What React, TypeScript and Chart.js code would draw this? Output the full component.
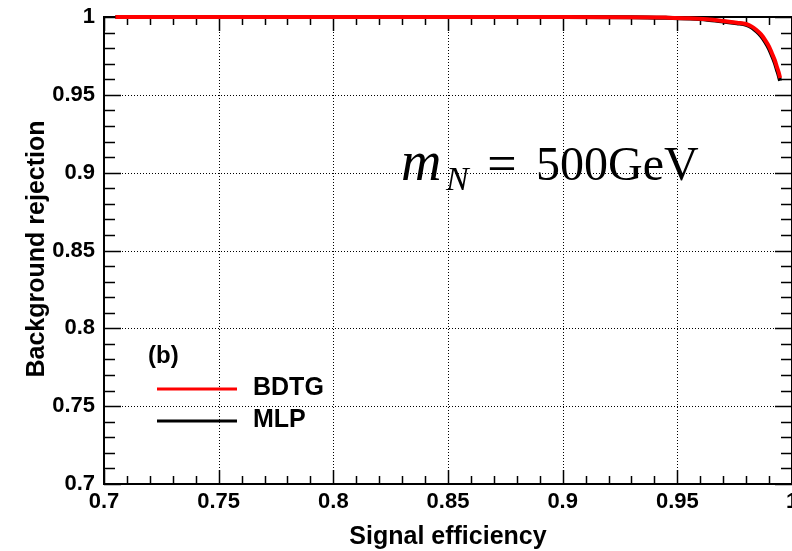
import React, { useEffect, useRef } from "react";
import { Chart, registerables } from "chart.js";

Chart.register(...registerables);

// Signal efficiency sample points of the ROC curves
const signalEfficiency = [
  0.705, 0.8, 0.9, 0.93, 0.945, 0.955, 0.963, 0.97, 0.976, 0.98, 0.9825,
  0.9845, 0.9865, 0.9883, 0.99, 0.9912, 0.9925, 0.9934, 0.9942, 0.9948,
];
// Background rejection for each classifier
const bdtgRejection = [
  1, 1, 1, 0.9999, 0.9996, 0.9992, 0.9985, 0.9974, 0.9963, 0.9955, 0.9938,
  0.9916, 0.9888, 0.9852, 0.981, 0.9769, 0.9722, 0.968, 0.9645, 0.9608,
];
const mlpRejection = [
  1, 1, 1, 0.9999, 0.9995, 0.999, 0.9983, 0.9971, 0.996, 0.995, 0.9932,
  0.9908, 0.9878, 0.984, 0.9796, 0.9754, 0.9705, 0.9662, 0.9625, 0.959,
];

const xMajorTicks = [0.7, 0.75, 0.8, 0.85, 0.9, 0.95, 1];
const yMajorTicks = [0.7, 0.75, 0.8, 0.85, 0.9, 0.95, 1];
const minorStep = 0.01;

const seriesNames = ["BDTG", "MLP"];
const seriesColors = ["#ff0000", "#000000"];
const panelTag = "(b)";
const xTitle = "Signal efficiency";
const yTitle = "Background rejection";

const SANS = "'Liberation Sans', Arial, Helvetica, sans-serif";
const SERIF = "'Liberation Serif', 'Times New Roman', serif";

const fmt = (v: number) => String(Number(v.toFixed(2)));

const framePlugin = {
  id: "rootFrame",
  beforeDatasetsDraw(chart: any) {
    const { ctx, chartArea } = chart;
    const xs = chart.scales.x;
    const ys = chart.scales.y;
    const { left, right, top, bottom } = chartArea;
    ctx.save();
    // dotted grid on interior major ticks
    ctx.strokeStyle = "#000";
    ctx.lineWidth = 1;
    ctx.setLineDash([1, 2]);
    xMajorTicks.slice(1, -1).forEach((v) => {
      const px = Math.round(xs.getPixelForValue(v)) + 0.5;
      ctx.beginPath();
      ctx.moveTo(px, top);
      ctx.lineTo(px, bottom);
      ctx.stroke();
    });
    yMajorTicks.slice(1, -1).forEach((v) => {
      const py = Math.round(ys.getPixelForValue(v)) + 0.5;
      ctx.beginPath();
      ctx.moveTo(left, py);
      ctx.lineTo(right, py);
      ctx.stroke();
    });
    ctx.setLineDash([]);

    // tick marks on all four sides
    ctx.lineWidth = 1.5;
    const nX = Math.round((xs.max - xs.min) / minorStep);
    for (let i = 0; i <= nX; i++) {
      const v = xs.min + i * minorStep;
      const major = i % 5 === 0;
      const len = major ? 14 : 8;
      const px = Math.round(xs.getPixelForValue(v)) + 0.5;
      ctx.beginPath();
      ctx.moveTo(px, bottom);
      ctx.lineTo(px, bottom - len);
      ctx.moveTo(px, top);
      ctx.lineTo(px, top + len);
      ctx.stroke();
    }
    const nY = Math.round((ys.max - ys.min) / minorStep);
    for (let i = 0; i <= nY; i++) {
      const v = ys.min + i * minorStep;
      const major = i % 5 === 0;
      const len = major ? 17 : 11;
      const py = Math.round(ys.getPixelForValue(v)) + 0.5;
      ctx.beginPath();
      ctx.moveTo(left, py);
      ctx.lineTo(left + len, py);
      ctx.moveTo(right, py);
      ctx.lineTo(right - len, py);
      ctx.stroke();
    }

    // frame
    ctx.lineWidth = 2;
    ctx.strokeRect(left, top, right - left, bottom - top);
    ctx.restore();
  },
  afterDraw(chart: any) {
    const { ctx } = chart;
    ctx.save();
    ctx.fillStyle = "#000";

    // axis titles
    ctx.font = `bold 25px ${SANS}`;
    ctx.textAlign = "center";
    ctx.textBaseline = "middle";
    ctx.fillText(xTitle, 448, 537);
    ctx.save();
    ctx.translate(37, 249);
    ctx.rotate(-Math.PI / 2);
    ctx.fillText(yTitle, 0, 0);
    ctx.restore();

    // mass label
    ctx.textAlign = "left";
    ctx.textBaseline = "alphabetic";
    ctx.font = `italic 56px ${SERIF}`;
    ctx.fillText("m", 401, 180);
    ctx.font = `italic 34px ${SERIF}`;
    ctx.fillText("N", 446, 190);
    ctx.font = `52px ${SERIF}`;
    ctx.textAlign = "center";
    ctx.fillText("=", 502, 181);
    ctx.font = `48px ${SERIF}`;
    ctx.textAlign = "left";
    ctx.fillText("500GeV", 536, 180);

    // panel tag and legend
    ctx.font = `bold 24px ${SANS}`;
    ctx.textBaseline = "middle";
    ctx.fillText(panelTag, 148, 356);
    const rows = [389, 421];
    seriesNames.forEach((name, i) => {
      ctx.strokeStyle = seriesColors[i];
      ctx.lineWidth = 3;
      ctx.beginPath();
      ctx.moveTo(157, rows[i]);
      ctx.lineTo(237, rows[i]);
      ctx.stroke();
      ctx.font = `bold 25px ${SANS}`;
      ctx.fillText(name, 253, rows[i] - 1);
    });
    ctx.restore();
  },
};

export default function App() {
  const canvasRef = useRef<HTMLCanvasElement | null>(null);

  useEffect(() => {
    if (!canvasRef.current) return;
    const chart = new Chart(canvasRef.current, {
      type: "line",
      data: {
        datasets: [
          {
            label: seriesNames[0],
            data: signalEfficiency.map((x, i) => ({ x, y: bdtgRejection[i] })),
            borderColor: seriesColors[0],
            borderWidth: 4,
            pointRadius: 0,
            cubicInterpolationMode: "monotone",
            clip: 8,
            order: 0,
          },
          {
            label: seriesNames[1],
            data: signalEfficiency.map((x, i) => ({ x, y: mlpRejection[i] })),
            borderColor: seriesColors[1],
            borderWidth: 4,
            pointRadius: 0,
            cubicInterpolationMode: "monotone",
            clip: 8,
            order: 1,
          },
        ],
      },
      options: {
        animation: false,
        responsive: true,
        maintainAspectRatio: false,
        layout: { padding: { top: 17, right: 0, bottom: 0, left: 0 } },
        plugins: {
          legend: { display: false },
          tooltip: { enabled: false },
        },
        scales: {
          x: {
            type: "linear",
            min: 0.7,
            max: 1,
            grid: { display: false, drawTicks: false },
            border: { display: false },
            afterBuildTicks: (scale: any) => {
              scale.ticks = xMajorTicks.map((value) => ({ value }));
            },
            afterFit: (scale: any) => {
              scale.height = 67;
              scale.paddingLeft = 0;
              scale.paddingRight = 0;
            },
            ticks: {
              autoSkip: false,
              maxRotation: 0,
              padding: 5,
              color: "#000",
              font: { family: SANS, size: 22, weight: "bold" },
              callback: (v: any) => fmt(Number(v)),
            },
          },
          y: {
            type: "linear",
            min: 0.7,
            max: 1,
            grid: { display: false, drawTicks: false },
            border: { display: false },
            afterBuildTicks: (scale: any) => {
              scale.ticks = yMajorTicks.map((value) => ({ value }));
            },
            afterFit: (scale: any) => {
              scale.width = 104;
              scale.paddingTop = 0;
              scale.paddingBottom = 0;
            },
            ticks: {
              autoSkip: false,
              padding: 9,
              color: "#000",
              font: { family: SANS, size: 22, weight: "bold" },
              callback: (v: any) => fmt(Number(v)),
            },
          },
        },
      },
      plugins: [framePlugin],
    });
    return () => chart.destroy();
  }, []);

  return (
    <div
      style={{
        position: "absolute",
        left: 0,
        top: 0,
        width: 792,
        height: 551,
        background: "#fff",
      }}
    >
      <canvas ref={canvasRef} />
    </div>
  );
}
